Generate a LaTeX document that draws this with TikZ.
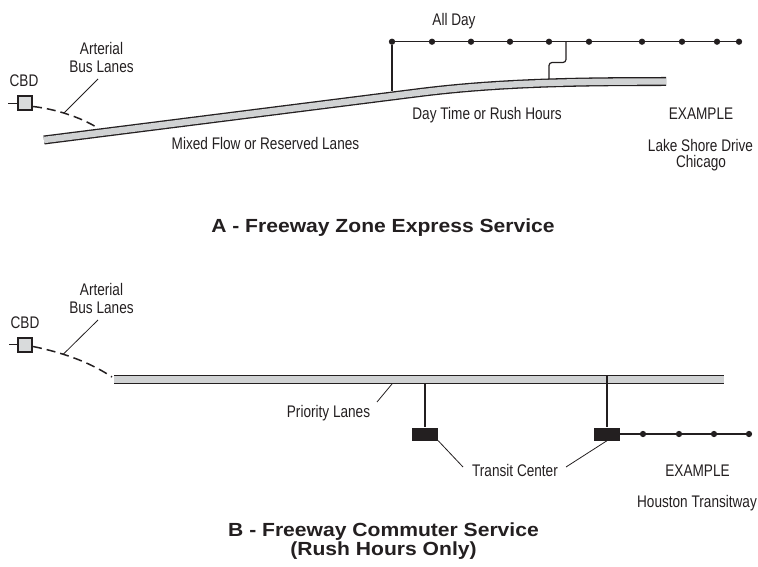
\documentclass[tikz,border=0pt]{standalone}
\usepackage{fontspec}
\setmainfont[FakeStretch=0.81]{Liberation Sans}
\newfontfamily\titlefont[FakeStretch=1.11]{Liberation Sans}
\definecolor{ink}{RGB}{35,31,32}
\definecolor{lanegray}{RGB}{208,210,211}
\tikzset{
  lbl/.style={font=\fontsize{16.8}{18}\selectfont, text=ink, inner sep=0pt, anchor=base},
  ttl/.style={font=\titlefont\bfseries\fontsize{19}{19}\selectfont, text=ink, inner sep=0pt, anchor=base},
  stopdot/.style={circle, fill=ink, inner sep=0pt, minimum size=6.3pt},
  cbdbox/.style={draw=ink, line width=2pt, fill=lanegray!80, minimum size=14pt, inner sep=0pt},
  tcbox/.style={fill=ink, minimum width=26pt, minimum height=13pt, inner sep=0pt},
  road/.style={draw=ink, line width=1.3pt, double=lanegray, double distance=6.4pt},
  link/.style={draw=ink, line width=1.2pt},
  leader/.style={draw=ink, line width=0.8pt},
  busway/.style={draw=ink, line width=1.5pt, dash pattern=on 9pt off 5pt},
}
\begin{document}
\begin{tikzpicture}[x=1pt, y=-1pt]
    \useasboundingbox (0,0) rectangle (758,567);
    % A - freeway zone express
    \node[lbl] (cbdA) at (24,87) {CBD};
    \node[cbdbox] (boxA) at (25,103.5) {};
    \coordinate (tickA) at (8,103.5);
    \draw[link] (tickA) -- (boxA.west);
    \draw[road] (44,140) -- (420,92.5) .. controls (500,82.5) and (580,81.5) .. (666,81.5);
    \coordinate (dashA) at (97,127.5);
    \draw[busway] ([yshift=-3pt]boxA.east) .. controls (55,109) and (80,117) .. (dashA);
    \node[lbl] (artAtop) at (101.5,55) {Arterial};
    \node[lbl] (artAbot) at (101.5,72.7) {Bus Lanes};
    \coordinate (artA) at (98,79);
    \coordinate (footA) at (64,113);
    \draw[leader] (artA) -- (footA);
    \node[lbl] (mixed) at (265.5,149.5) {Mixed Flow or Reserved Lanes};
    \node[lbl] (allday) at (454,25.5) {All Day};
    \node[lbl] (daytime) at (487,119.3) {Day Time or Rush Hours};
    \node[lbl] (exA) at (701,119.3) {EXAMPLE};
    \node[lbl] (lsd) at (700.5,151.7) {Lake Shore Drive};
    \node[lbl] (chi) at (701,167.7) {Chicago};
    \foreach \x [count=\i] in {392,432,471,510,549,589,642,682,717,739}
        \node[stopdot] (s\i) at (\x,41.7) {};
    \draw[link] (s1) -- (s10);
    \coordinate (rampA) at (392,91.5);
    \draw[link] (s1) -- (rampA);
    \coordinate (jogtop) at (566,41.7);
    \coordinate (jogfoot) at (549,79);
    \draw[link, rounded corners=3pt] (jogtop) -- (566,62.5) -- (549,62.5) -- (jogfoot);
    \node[ttl] (titleA) at (383,232.7) {A - Freeway Zone Express Service};
    % B - freeway commuter
    \node[lbl] (cbdB) at (25,328.3) {CBD};
    \node[cbdbox] (boxB) at (25,344.5) {};
    \coordinate (tickB) at (9,344.5);
    \draw[link] (tickB) -- (boxB.west);
    \draw[road] (114,379.5) -- (724,379.5);
    \coordinate (dashB) at (112,377);
    \draw[busway] ([yshift=-2pt]boxB.east) .. controls (60,352) and (88,361) .. (dashB);
    \node[lbl] (artBtop) at (101.5,295.6) {Arterial};
    \node[lbl] (artBbot) at (101.5,313.3) {Bus Lanes};
    \coordinate (artB) at (98,320);
    \coordinate (footB) at (63,354.5);
    \draw[leader] (artB) -- (footB);
    \node[lbl] (prio) at (328.5,417.3) {Priority Lanes};
    \coordinate (prioA) at (377,402);
    \coordinate (prioB) at (392,384);
    \draw[leader] (prioA) -- (prioB);
    \node[tcbox] (tc1) at (425,434) {};
    \node[tcbox] (tc2) at (607,434) {};
    \coordinate (r1) at (425,384);
    \coordinate (r2) at (607,375.5);
    \draw[link] (r1) -- (tc1);
    \draw[link] (r2) -- (tc2);
    \foreach \x [count=\i] in {643,679,714,749}
        \node[stopdot] (h\i) at (\x,434) {};
    \draw[link] (tc2.east) -- (h4);
    \node[lbl] (tclabel) at (515,476.7) {Transit Center};
    \coordinate (tcl1) at (463,467);
    \coordinate (tcl2) at (566,467);
    \draw[leader] (tcl1) -- (tc1.south east);
    \draw[leader] (tcl2) -- (tc2.south);
    \node[lbl] (exB) at (697.5,476.7) {EXAMPLE};
    \node[lbl] (hou) at (697,507.7) {Houston Transitway};
    \node[ttl] (titleB) at (383.5,536) {B - Freeway Commuter Service};
    \node[ttl] (titleBsub) at (383.5,555.5) {(Rush Hours Only)};
\end{tikzpicture}
\end{document}
